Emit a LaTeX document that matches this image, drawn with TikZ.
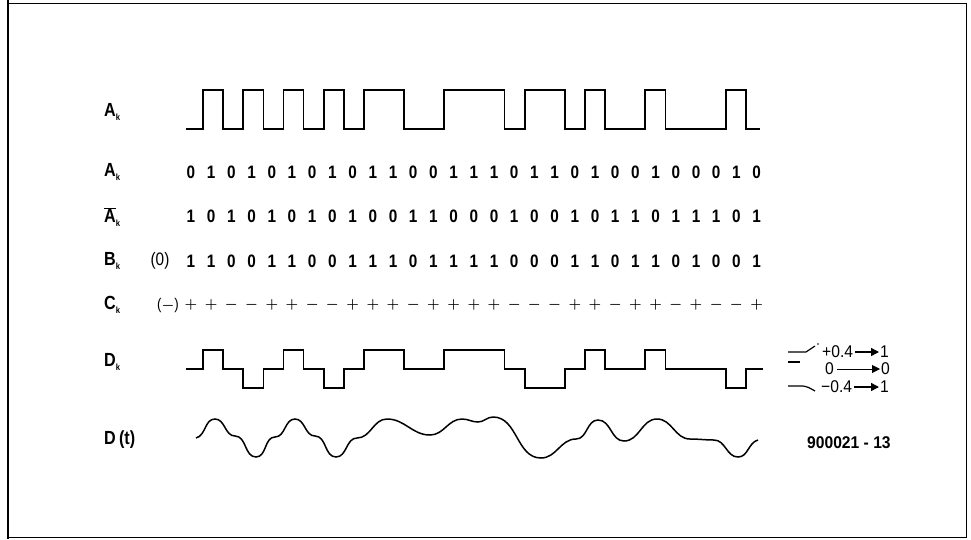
\documentclass[tikz,border=0pt]{standalone}
\usepackage{fontspec}
\setmainfont[FakeStretch=0.85]{Liberation Sans}
\newfontfamily\legfont[FakeStretch=0.92]{Liberation Sans}
\usetikzlibrary{arrows.meta}
\begin{document}
\begin{tikzpicture}[x=1pt,y=-1pt,
  wave/.style={line width=1.7pt, line join=miter},
  lbl/.style={anchor=west, inner sep=0pt, font=\fontsize{19}{21}\selectfont\bfseries},
  digit/.style={inner sep=0pt, font=\fontsize{18}{20}\selectfont\bfseries},
  sign/.style={inner sep=0pt, font=\fontsize{15.5}{18}\selectfont\boldmath},
  leg/.style={inner sep=0pt, font=\legfont\fontsize{17}{19}\selectfont},
  legarrow/.style={line width=1.3pt, -{Triangle[length=8pt,width=8pt]}, shorten <=2pt, shorten >=1pt}]
\useasboundingbox (0,0) rectangle (971,539);
% frame
\draw[line width=2.2pt] (8,0) -- (8,539);
\draw[line width=1pt] (8,3) -- (966,3) -- (966,537) -- (8,537);
% labels
\node[lbl] (lA) at (104,112) {A\raisebox{-3.5pt}{\small k}};
\node[lbl] (lA2) at (104,172) {A\raisebox{-3.5pt}{\small k}};
\node[lbl] (lAn) at (104,217) {$\overline{\mbox{A}}$\raisebox{-3.5pt}{\small k}};
\node[lbl] (lB) at (104,261) {B\raisebox{-3.5pt}{\small k}};
\node[lbl] (lC) at (104,305) {C\raisebox{-3.5pt}{\small k}};
\node[lbl] (lD) at (104,362) {D\raisebox{-3.5pt}{\small k}};
\node[lbl] (lDt) at (104,440) {D\,(t)};
% Ak waveform
\draw[wave] (186,129) -- (203.1,129) -- (203.1,90) -- (223.2,90) -- (223.2,129) -- (243.3,129) -- (243.3,90) -- (263.4,90) -- (263.4,129) -- (283.5,129) -- (283.5,90) -- (303.6,90) -- (303.6,129) -- (323.7,129) -- (323.7,90) -- (343.8,90) -- (343.8,129) -- (363.9,129) -- (363.9,90) -- (404.1,90) -- (404.1,129) -- (444.3,129) -- (444.3,90) -- (504.6,90) -- (504.6,129) -- (524.7,129) -- (524.7,90) -- (564.9,90) -- (564.9,129) -- (585,129) -- (585,90) -- (605.1,90) -- (605.1,129) -- (645.3,129) -- (645.3,90) -- (665.4,90) -- (665.4,129) -- (725.7,129) -- (725.7,90) -- (745.8,90) -- (745.8,129) -- (760,129);
% digit rows
\foreach \d [count=\i from 0] in {0,1,0,1,0,1,0,1,0,1,1,0,0,1,1,1,0,1,1,0,1,0,0,1,0,0,0,1,0}
  \node[digit] (a\i) at ({191+20.2*\i},172) {\d};
\foreach \d [count=\i from 0] in {1,0,1,0,1,0,1,0,1,0,0,1,1,0,0,0,1,0,0,1,0,1,1,0,1,1,1,0,1}
  \node[digit] (n\i) at ({191+20.2*\i},216) {\d};
\node[digit, font=\fontsize{18}{20}\selectfont] (b0) at (160,261) {(0)};
\foreach \d [count=\i from 1] in {1,1,0,0,1,1,0,0,1,1,1,0,1,1,1,1,0,0,0,1,1,0,1,1,0,1,0,0,1}
  \node[digit] (b\i) at ({191+20.2*(\i-1)},261) {\d};
\node[sign] (c0) at (168,305) {($-$)};
\foreach \d [count=\i from 1] in {+,+,-,-,+,+,-,-,+,+,+,-,+,+,+,+,-,-,-,+,+,-,+,+,-,+,-,-,+}
  \node[sign] (c\i) at ({191+20.2*(\i-1)},305) {$\d$};
% Dk waveform
\draw[wave] (186,369) -- (203.1,369) -- (203.1,350) -- (223.2,350) -- (223.2,369) -- (243.3,369) -- (243.3,388) -- (263.4,388) -- (263.4,369) -- (283.5,369) -- (283.5,350) -- (303.6,350) -- (303.6,369) -- (323.7,369) -- (323.7,388) -- (343.8,388) -- (343.8,369) -- (363.9,369) -- (363.9,350) -- (404.1,350) -- (404.1,369) -- (444.3,369) -- (444.3,350) -- (504.6,350) -- (504.6,369) -- (524.7,369) -- (524.7,388) -- (564.9,388) -- (564.9,369) -- (585,369) -- (585,350) -- (605.1,350) -- (605.1,369) -- (645.3,369) -- (645.3,350) -- (665.4,350) -- (665.4,369) -- (725.7,369) -- (725.7,388) -- (745.8,388) -- (745.8,369) -- (763,369);
% D(t) waveform
\draw[line width=1.5pt, out=0, in=180] (196,438) to[out=15] (215,419) to (235,436) to (256,457)
  to (275,437) to (295,419) to (315,436) to (336,457) to (357,438) to (387,419)
  to (430,435) to (462,419) to (478,422) to (493,417) to (541,458) to (576,439)
  to (598,420) to (624,441) to (657,419) to (690,439) to (714,440) to (738,457)
  to[in=195] (758,440);
% legend
\draw[line width=1.2pt] (788,352) -- (806,352) -- (815,346);
\fill (818,344) circle (0.8pt);
\draw[line width=1.2pt] (788,362) -- (800,362);
\draw[line width=1.2pt] (788,386) -- (803,386) .. controls (808,387) .. (815,391);
\node[leg, anchor=west] (lp) at (822,352) {+0.4};
\node[leg, anchor=west] (lp1) at (880,352) {1};
\node[leg, anchor=west] (lz) at (825,369) {0};
\node[leg, anchor=west] (lz0) at (881,369) {0};
\node[leg, anchor=west] (lm) at (821,387) {−0.4};
\node[leg, anchor=west] (lm1) at (880,387) {1};
\draw[legarrow] (lp) -- (lp1);
\draw[line width=0.9pt, -{Triangle[length=8pt,width=8pt]}, shorten <=3pt, shorten >=1pt] (lz) -- (lz0);
\draw[legarrow] (lm) -- (lm1);
\node[anchor=west, inner sep=0pt, font=\legfont\fontsize{17}{19}\selectfont\bfseries] (fig) at (807,443) {900021 - 13};
\end{tikzpicture}
\end{document}
